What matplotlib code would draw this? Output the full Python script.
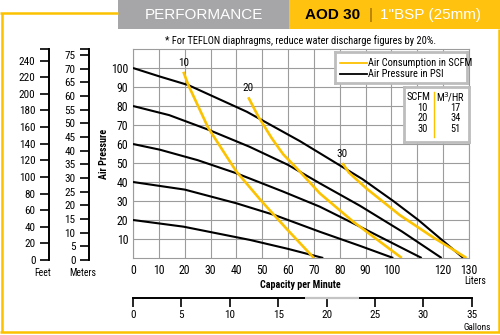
import matplotlib
matplotlib.use("Agg")
import matplotlib.pyplot as plt
from matplotlib import font_manager as fm
from matplotlib.patches import Rectangle
from matplotlib.lines import Line2D

# look for a narrow face for the small print
fonts = fm.fontManager.ttflist
NARROW = None
STRETCH = 'normal'
for want in ['Liberation Sans Narrow', 'Roboto Condensed', 'Open Sans Condensed',
             'Noto Sans Condensed', 'DejaVu Sans Condensed']:
    if any(f.name == want for f in fonts):
        NARROW = want
        break
if NARROW is None:
    for fam in ['Noto Sans', 'DejaVu Sans', 'Open Sans', 'Roboto', 'Liberation Sans']:
        hit = [f for f in fonts if f.name == fam and str(f.stretch) in ('condensed', 'semi-condensed')]
        if hit:
            NARROW, STRETCH = fam, str(hit[0].stretch)
            break
if NARROW is None:
    for f in fonts:
        if ('Condensed' in f.name or 'Narrow' in f.name) and f.style == 'normal':
            NARROW = f.name
            break
found = NARROW is not None
if not found:
    NARROW = 'Liberation Sans'
WIDE = ['Liberation Sans', 'DejaVu Sans']
plt.rcParams['font.family'] = [NARROW, 'DejaVu Sans']
plt.rcParams['font.stretch'] = STRETCH

# text sizes (pt) for the narrow face, and for plain Arial-like metrics
SZ = dict(note=7.5, tick=8.5, gal=8, head=8, lab=7.2, leg=7.5, box=7.5, small=7) if found else \
     dict(note=6.3, tick=7.6, gal=7.2, head=7.2, lab=6.6, leg=5.9, box=6.4, small=6.3)

YEL = '#fcc200'
GRID = '#9c9c9c'

# air pressure curves (psi) : capacity in liters/min vs head in psi
psi_levels = [100, 80, 60, 40, 20]
psi_x = [
    [0, 10.4, 21.4, 44, 64.6, 88.8, 100.7, 110.4, 127.8],
    [0, 14, 29, 45, 60, 72.3, 87.8, 104, 119.4],
    [0, 10.4, 25, 40, 58, 72.3, 87.8, 111.7],
    [0, 20, 40, 55, 72.3, 87.8, 100.7],
    [0, 19.5, 45.3, 60, 73.6],
]
psi_y = [
    [100, 95.5, 91, 77, 61.5, 41.5, 30, 20, 0],
    [80, 75.2, 67.6, 58.6, 49, 39.3, 27.5, 14, 0],
    [60, 57, 51.5, 44.6, 35, 27, 16.5, 0],
    [40, 36, 28.8, 22.5, 13.8, 6.4, 0],
    [20, 16.5, 9.5, 4.8, 0],
]

# air consumption curves (scfm)
scfm_levels = [10, 20, 30]
m3hr_levels = [17, 34, 51]
scfm_x = [
    [19.5, 21.4, 25, 29.1, 35, 40, 50, 60, 70],
    [44.6, 48.5, 53.7, 58.1, 64.6, 72.3, 85.2, 104],
    [81, 83.5, 90.4, 103.3, 116.2, 123.9, 129],
]
scfm_y = [
    [98, 91, 80.5, 68.5, 56, 45.5, 29.5, 14.5, 0],
    [84.6, 74.4, 63, 54.6, 45.4, 34, 19.1, 0],
    [50, 45, 36.5, 22.5, 10.8, 4.4, 0],
]

liters_ticks = list(range(0, 140, 10))
liters_labels = ['' if v == 110 else str(v) for v in liters_ticks]
psi_ticks = list(range(10, 110, 10))
feet_ticks = list(range(0, 260, 20))
meter_ticks = list(range(0, 80, 5))
gallon_ticks = list(range(0, 40, 5))

W, H = 500, 335
fig = plt.figure(figsize=(5, 3.35), dpi=100)

def fx(px):
    return px / W

def fy(py):
    return 1 - py / H

# header bars
fig.add_artist(Rectangle((fx(118.3), fy(29)), fx(171), 29 / H, transform=fig.transFigure,
                         facecolor='#a6a6a8', edgecolor='none'))
fig.add_artist(Rectangle((fx(289.3), fy(29)), fx(210.7), 29 / H, transform=fig.transFigure,
                         facecolor='#ffc20e', edgecolor='none'))
hdr = dict(fontsize=11, family=WIDE, stretch='normal', va='center')
fig.text(fx(203.5), fy(15), 'PERFORMANCE', color='white', ha='center', **hdr)
fig.text(fx(305), fy(15), 'AOD 30', color='black', fontweight='bold', ha='left', **hdr)
fig.text(fx(371), fy(15), '|', color='#94620a', ha='center', **hdr)
fig.text(fx(380), fy(15), '1"BSP (25mm)', color='white', ha='left', **hdr)

# yellow frame
for xs, ys in [([0, 118.3], [13, 13]), ([1.5, 1.5], [13, 332]),
               ([0, 500], [332, 332]), ([498.5, 498.5], [29, 332])]:
    fig.add_artist(Line2D([fx(v) for v in xs], [fy(v) for v in ys], transform=fig.transFigure,
                          color=YEL, lw=1.8, solid_capstyle='butt'))

fig.text(fx(300.8), fy(40.7), '* For TEFLON diaphragms, reduce water discharge figures by 20%.',
         fontsize=SZ['note'], ha='center', va='center')

# main chart
ax = fig.add_axes([fx(133), fy(258), fx(336), 209 / H])
ax.set_xlim(0, 130)
ax.set_ylim(0, 110)
ax.set_xticks(liters_ticks)
ax.set_xticklabels(liters_labels)
ax.set_yticks(psi_ticks)
ax.tick_params(length=0, labelsize=SZ['tick'], pad=3.5)
ax.tick_params(axis='x', pad=4)
ax.grid(True, color=GRID, lw=0.8)
ax.set_axisbelow(True)
for s in ax.spines.values():
    s.set_color(GRID)
    s.set_linewidth(0.8)

for xs, ys in zip(psi_x, psi_y):
    ax.plot(xs, ys, color='black', lw=1.5, solid_capstyle='butt', zorder=3)
for lvl, xs, ys in zip(scfm_levels, scfm_x, scfm_y):
    ax.plot(xs, ys, color=YEL, lw=1.9, solid_capstyle='butt', zorder=4)
    ax.annotate(str(lvl), (xs[0], ys[0]), xytext=(0, 3), textcoords='offset points',
                ha='center', va='bottom', fontsize=SZ['head'])

ax.text(-0.086, 0.5, 'Air Pressure', transform=ax.transAxes, rotation=90, fontsize=SZ['lab'],
        fontweight='bold', ha='center', va='center')
fig.text(fx(300), fy(285), 'Capacity per Minute', fontsize=SZ['lab'], fontweight='bold',
         ha='center', va='center')
fig.text(fx(475), fy(281), 'Liters', fontsize=SZ['small'], ha='center', va='center')

# legend box
lg = fig.add_axes([fx(335), fy(83), fx(132), 31 / H])
lg.set_xlim(0, 1)
lg.set_ylim(0, 1)
lg.set_xticks([])
lg.set_yticks([])
for s in lg.spines.values():
    s.set_color('#bdbdbd')
    s.set_linewidth(2)
lg.plot([0.04, 0.24], [0.64, 0.64], color=YEL, lw=1.3)
lg.plot([0.04, 0.24], [0.29, 0.29], color='black', lw=1.3)
lg.text(0.25, 0.64, 'Air Consumption in SCFM', fontsize=SZ['leg'], va='center')
lg.text(0.25, 0.29, 'Air Pressure in PSI', fontsize=SZ['leg'], va='center')

# scfm / m3 per hour box
tb = fig.add_axes([fx(404), fy(142), fx(65), 55 / H])
tb.set_xlim(0, 65)
tb.set_ylim(55, 0)
tb.set_xticks([])
tb.set_yticks([])
for s in tb.spines.values():
    s.set_color('#bdbdbd')
    s.set_linewidth(2)
tb.plot([30.3, 30.3], [4.7, 49.7], color=YEL, lw=1)
tb.text(14.3, 9.7, 'SCFM', fontsize=SZ['box'], ha='center', va='center')
tb.text(46, 9.7, 'M$^3\\!$/HR', fontsize=SZ['box'], ha='center', va='center')
for i, (s_, m_) in enumerate(zip(scfm_levels, m3hr_levels)):
    tb.text(23.7, 20.7 + 10.7 * i, str(s_), fontsize=SZ['box'], ha='right', va='center')
    tb.text(56.7, 20.7 + 10.7 * i, str(m_), fontsize=SZ['box'], ha='right', va='center')

# feet and meters scales
def head_axis(px, top, ticks, label):
    a = fig.add_axes([fx(px), fy(260), 0.0001, 211 / H])
    a.patch.set_visible(False)
    for k in ['top', 'right', 'bottom']:
        a.spines[k].set_visible(False)
    a.spines['left'].set_linewidth(1.4)
    a.set_ylim(0, top)
    a.set_yticks(ticks + [top])
    a.set_yticklabels([str(t) for t in ticks] + [''])
    a.set_xticks([])
    a.tick_params(axis='y', direction='out', length=6.5, width=1.2, pad=3.5, labelsize=SZ['head'])
    fig.text(fx(px - 6.6), fy(273), label, fontsize=SZ['small'], ha='center', va='center')
    return a

head_axis(49.3, 254, feet_ticks, 'Feet')
head_axis(89.3, 77.2, meter_ticks, 'Meters')

# gallons scale
ga = fig.add_axes([fx(133), fy(298), fx(338.7), 0.0001])
ga.patch.set_visible(False)
for k in ['top', 'right', 'left']:
    ga.spines[k].set_visible(False)
ga.spines['bottom'].set_linewidth(1.4)
ga.set_xlim(0, 35)
ga.set_xticks(gallon_ticks)
ga.set_yticks([])
ga.tick_params(axis='x', direction='out', length=6.5, width=1.2, pad=2, labelsize=SZ['gal'])
ga.plot([17.8, 23.4], [0, 0], color='#c4c4c4', lw=1.6, clip_on=False, zorder=5,
        solid_capstyle='butt')
fig.text(fx(477), fy(327.5), 'Gallons', fontsize=SZ['small'] - 0.3, ha='center', va='center')

fig.savefig('out.png', dpi=100)
